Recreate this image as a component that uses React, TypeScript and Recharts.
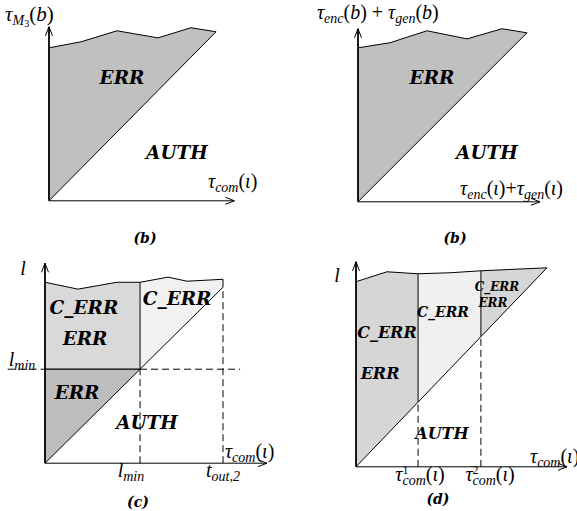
import React from "react";
import { ComposedChart, Area, XAxis, YAxis, ReferenceLine, ReferenceDot } from "recharts";

// every panel uses units where the diagonal runs from (0,0) to (10,10)
const A_TOP = [
  { x: 0, y: 9.05 },
  { x: 1.92, y: 9.41 },
  { x: 4.07, y: 10.06 },
  { x: 6.53, y: 9.64 },
  { x: 8.5, y: 10.24 },
  { x: 10, y: 10 },
];
const B_TOP = [
  { x: 0, y: 9.11 },
  { x: 1.89, y: 9.41 },
  { x: 4.08, y: 10.12 },
  { x: 6.45, y: 9.64 },
  { x: 8.52, y: 10.24 },
  { x: 10, y: 10 },
];
const C_TOP = [
  { x: 0, y: 10.28 },
  { x: 1.85, y: 9.89 },
  { x: 4.04, y: 10.28 },
  { x: 5.34, y: 10.28 },
  { x: 6.91, y: 10.57 },
  { x: 7.98, y: 10.34 },
  { x: 10, y: 10.45 },
];
const D_TOP = [
  { x: 0, y: 9.3 },
  { x: 1.62, y: 9.8 },
  { x: 3.25, y: 9.7 },
  { x: 4.92, y: 9.75 },
  { x: 6.54, y: 9.85 },
  { x: 10, y: 10 },
];
const C_LMIN = 5.34;
const C_TOUT = 10;
const D_SPLITS = [3.25, 6.54];
// axis arrow lengths [x, y]
const A_AXES = [11.1, 10.3];
const B_AXES = [10.77, 10.24];
const C_AXES = [12.47, 11.36];
const D_AXES = [11.05, 10.3];

const A_ERR = A_TOP.map((p) => ({ x: p.x, v: [p.x, p.y] }));
const B_ERR = B_TOP.map((p) => ({ x: p.x, v: [p.x, p.y] }));
const C_UPPER = C_TOP.filter((p) => p.x <= C_LMIN).map((p) => ({ x: p.x, v: [C_LMIN, p.y] }));
const C_LOWER = [
  { x: 0, v: [0, C_LMIN] },
  { x: C_LMIN, v: [C_LMIN, C_LMIN] },
];
const C_RIGHT = C_TOP.filter((p) => p.x >= C_LMIN).map((p) => ({ x: p.x, v: [p.x, p.y] }));
const D_EDGES = [0, ...D_SPLITS, 10];
const D_BANDS = D_EDGES.slice(0, -1).map((lo, i) =>
  D_TOP.filter((p) => p.x >= lo && p.x <= D_EDGES[i + 1]).map((p) => ({ x: p.x, v: [p.x, p.y] }))
);
const D_FILLS = ["#d6d6d6", "#f0f0f0", "#d6d6d6"];
const topAt = (top: { x: number; y: number }[], x: number) => top.find((p) => p.x === x)!.y;

const DOMAIN = 12;
const PAD = 70;
const MATH = "'Liberation Serif', serif";
const BOLD = "'DejaVu Serif', serif";
const SUB = 14;

function Panel({ ox, oy, sx, sy, children }: any) {
  const w = DOMAIN * sx;
  const h = DOMAIN * sy;
  return (
    <div style={{ position: "absolute", left: ox - PAD, top: oy - h - PAD }}>
      <ComposedChart
        width={w + 2 * PAD}
        height={h + 2 * PAD}
        margin={{ top: PAD, right: PAD, bottom: PAD, left: PAD }}
      >
        <XAxis type="number" dataKey="x" domain={[0, DOMAIN]} hide />
        <YAxis type="number" domain={[0, DOMAIN]} hide />
        {children}
      </ComposedChart>
    </div>
  );
}

const arrow = (width: number) => (p: any) => {
  const { x1, y1, x2, y2 } = p;
  const a = Math.atan2(y2 - y1, x2 - x1);
  const bx = x2 - 9 * Math.cos(a);
  const by = y2 - 9 * Math.sin(a);
  const nx = -Math.sin(a) * 3.5;
  const ny = Math.cos(a) * 3.5;
  return (
    <g>
      <line x1={x1} y1={y1} x2={x2} y2={y2} stroke="#000" strokeWidth={width} />
      <polyline
        points={`${bx + nx},${by + ny} ${x2},${y2} ${bx - nx},${by - ny}`}
        fill="none"
        stroke="#000"
        strokeWidth={1}
      />
    </g>
  );
};

const tag = (text: string, size: number) => (p: any) => (
  <text
    x={p.cx}
    y={p.cy}
    dy="0.36em"
    textAnchor="middle"
    fontFamily={BOLD}
    fontWeight="bold"
    fontStyle="italic"
    fontSize={size}
    fill="#000"
  >
    {text}
  </text>
);

const math = (body: React.ReactNode, anchor = "start", size = 20) => (p: any) => (
  <text x={p.cx} y={p.cy} textAnchor={anchor} fontFamily={MATH} fontSize={size} fill="#000">
    {body}
  </text>
);

// tau with a subscript and an argument, e.g. tau_com(iota)
function tau(sub: string, arg: string, sup?: string) {
  return (
    <>
      <tspan fontStyle="italic">τ</tspan>
      {sup ? (
        <>
          <tspan fontSize={12} dy={-7}>{sup}</tspan>
          <tspan fontStyle="italic" fontSize={SUB} dx={-6} dy={11}>{sub}</tspan>
          <tspan dy={-4}>(</tspan>
        </>
      ) : (
        <>
          <tspan fontStyle="italic" fontSize={SUB} dy={4}>{sub}</tspan>
          <tspan dy={-4}>(</tspan>
        </>
      )}
      <tspan fontStyle="italic">{arg}</tspan>
      <tspan>)</tspan>
    </>
  );
}

const lmin = (
  <>
    <tspan fontStyle="italic">l</tspan>
    <tspan fontStyle="italic" fontSize={SUB} dy={4}>min</tspan>
  </>
);

const dash = { stroke: "#000", strokeWidth: 1, strokeDasharray: "7 4", ifOverflow: "visible" as const };
const solid = { stroke: "#000", strokeWidth: 1, ifOverflow: "visible" as const };
const dot = { ifOverflow: "visible" as const };

export default function App() {
  return (
    <div style={{ position: "absolute", left: 0, top: 0, width: 577, height: 511, background: "#fff", overflow: "hidden" }}>
      {/* panel a */}
      <Panel ox={49} oy={201} sx={16.7} sy={16.9}>
        <Area data={A_ERR} dataKey="v" type="linear" fill="#c0c0c0" fillOpacity={1} stroke="#000" strokeWidth={1} isAnimationActive={false} />
        <ReferenceLine segment={[{ x: 0, y: 0 }, { x: A_AXES[0], y: 0 }]} ifOverflow="visible" shape={arrow(1)} />
        <ReferenceLine segment={[{ x: 0, y: 0 }, { x: 0, y: A_AXES[1] }]} ifOverflow="visible" shape={arrow(1.8)} />
        <ReferenceDot x={-2.63} y={10.65} {...dot} shape={math(
          <>
            <tspan fontStyle="italic">τ</tspan>
            <tspan fontStyle="italic" fontSize={SUB} dy={4}>M</tspan>
            <tspan fontSize={10} dy={2}>3</tspan>
            <tspan dy={-6}>(</tspan>
            <tspan fontStyle="italic">b</tspan>
            <tspan>)</tspan>
          </>,
          "start",
          21
        )} />
        <ReferenceDot x={4.37} y={7.28} {...dot} shape={tag("ERR", 18.5)} />
        <ReferenceDot x={7.66} y={2.84} {...dot} shape={tag("AUTH", 18.5)} />
        <ReferenceDot x={9.52} y={0.77} {...dot} shape={math(tau("com", "ι"))} />
        <ReferenceDot x={5.75} y={-2.2} {...dot} shape={tag("(b)", 14)} />
      </Panel>

      {/* panel b */}
      <Panel ox={358} oy={202} sx={16.9} sy={16.9}>
        <Area data={B_ERR} dataKey="v" type="linear" fill="#c0c0c0" fillOpacity={1} stroke="#000" strokeWidth={1} isAnimationActive={false} />
        <ReferenceLine segment={[{ x: 0, y: 0 }, { x: B_AXES[0], y: 0 }]} ifOverflow="visible" shape={arrow(1)} />
        <ReferenceLine segment={[{ x: 0, y: 0 }, { x: 0, y: B_AXES[1] }]} ifOverflow="visible" shape={arrow(1.8)} />
        <ReferenceDot x={-2.43} y={10.8} {...dot} shape={math(
          <>
            {tau("enc", "b")}
            <tspan> + </tspan>
            {tau("gen", "b")}
          </>
        )} />
        <ReferenceDot x={4.38} y={7.34} {...dot} shape={tag("ERR", 18.5)} />
        <ReferenceDot x={7.63} y={2.9} {...dot} shape={tag("AUTH", 18.5)} />
        <ReferenceDot x={6.04} y={0.41} {...dot} shape={math(
          <>
            {tau("enc", "ι")}
            <tspan>+</tspan>
            {tau("gen", "ι")}
          </>
        )} />
        <ReferenceDot x={5.74} y={-2.14} {...dot} shape={tag("(b)", 14)} />
      </Panel>

      {/* panel c */}
      <Panel ox={45} oy={463} sx={17.8} sy={17.6}>
        <Area data={C_UPPER} dataKey="v" type="linear" fill="#d9d9d9" fillOpacity={1} stroke="#000" strokeWidth={1} isAnimationActive={false} />
        <Area data={C_LOWER} dataKey="v" type="linear" fill="#bdbdbd" fillOpacity={1} stroke="#000" strokeWidth={1} isAnimationActive={false} />
        <Area data={C_RIGHT} dataKey="v" type="linear" fill="#f1f1f1" fillOpacity={1} stroke="#000" strokeWidth={1} isAnimationActive={false} />
        <ReferenceLine segment={[{ x: C_LMIN, y: C_LMIN }, { x: C_LMIN, y: topAt(C_TOP, C_LMIN) }]} {...solid} />
        <ReferenceLine segment={[{ x: C_TOUT, y: C_TOUT }, { x: C_TOUT, y: topAt(C_TOP, C_TOUT) }]} {...solid} />
        <ReferenceLine segment={[{ x: C_LMIN, y: 0 }, { x: C_LMIN, y: C_LMIN }]} {...dash} />
        <ReferenceLine segment={[{ x: C_TOUT, y: 0 }, { x: C_TOUT, y: C_TOUT }]} {...dash} />
        <ReferenceLine segment={[{ x: C_LMIN, y: C_LMIN }, { x: 10.96, y: C_LMIN }]} {...dash} />
        <ReferenceLine segment={[{ x: -2.1, y: C_LMIN }, { x: 0, y: C_LMIN }]} {...dash} />
        <ReferenceLine segment={[{ x: 0, y: 0 }, { x: C_AXES[0], y: 0 }]} ifOverflow="visible" shape={arrow(1)} />
        <ReferenceLine segment={[{ x: 0, y: 0 }, { x: 0, y: C_AXES[1] }]} ifOverflow="visible" shape={arrow(1.8)} />
        <ReferenceDot x={-1.24} y={10.68} {...dot} shape={math(<tspan fontStyle="italic">l</tspan>, "middle")} />
        <ReferenceDot x={-1.29} y={5.55} {...dot} shape={math(lmin, "middle")} />
        <ReferenceDot x={2.19} y={8.86} {...dot} shape={tag("C_ERR", 18.5)} />
        <ReferenceDot x={2.25} y={7.1} {...dot} shape={tag("ERR", 18.5)} />
        <ReferenceDot x={7.42} y={9.38} {...dot} shape={tag("C_ERR", 18.5)} />
        <ReferenceDot x={1.8} y={4.03} {...dot} shape={tag("ERR", 18.5)} />
        <ReferenceDot x={5.73} y={2.33} {...dot} shape={tag("AUTH", 18.5)} />
        <ReferenceDot x={10.11} y={0.28} {...dot} shape={math(tau("com", "ι"))} />
        <ReferenceDot x={4.83} y={-0.8} {...dot} shape={math(lmin, "middle")} />
        <ReferenceDot x={10} y={-0.8} {...dot} shape={math(
          <>
            <tspan fontStyle="italic">t</tspan>
            <tspan fontStyle="italic" fontSize={SUB} dy={4}>out,2</tspan>
          </>,
          "middle"
        )} />
        <ReferenceDot x={5.22} y={-2.22} {...dot} shape={tag("(c)", 14)} />
      </Panel>

      {/* panel d */}
      <Panel ox={356} oy={467} sx={19.1} sy={19.9}>
        {D_BANDS.map((band, i) => (
          <Area key={i} data={band} dataKey="v" type="linear" fill={D_FILLS[i]} fillOpacity={1} stroke="#000" strokeWidth={1} isAnimationActive={false} />
        ))}
        {D_SPLITS.map((s) => (
          <ReferenceLine key={`s${s}`} segment={[{ x: s, y: s }, { x: s, y: topAt(D_TOP, s) }]} {...solid} />
        ))}
        {D_SPLITS.map((s) => (
          <ReferenceLine key={`d${s}`} segment={[{ x: s, y: 0 }, { x: s, y: s }]} {...dash} />
        ))}
        <ReferenceLine segment={[{ x: 0, y: 0 }, { x: D_AXES[0], y: 0 }]} ifOverflow="visible" shape={arrow(1)} />
        <ReferenceLine segment={[{ x: 0, y: 0 }, { x: 0, y: D_AXES[1] }]} ifOverflow="visible" shape={arrow(1.8)} />
        <ReferenceDot x={-0.99} y={9.3} {...dot} shape={math(<tspan fontStyle="italic">l</tspan>, "middle")} />
        <ReferenceDot x={1.62} y={6.78} {...dot} shape={tag("C_ERR", 16)} />
        <ReferenceDot x={1.26} y={4.72} {...dot} shape={tag("ERR", 16)} />
        <ReferenceDot x={4.55} y={7.79} {...dot} shape={tag("C_ERR", 14)} />
        <ReferenceDot x={7.38} y={9.05} {...dot} shape={tag("C_ERR", 12)} />
        <ReferenceDot x={7.17} y={8.24} {...dot} shape={tag("ERR", 12)} />
        <ReferenceDot x={4.5} y={1.71} {...dot} shape={tag("AUTH", 16)} />
        <ReferenceDot x={9.11} y={0.2} {...dot} shape={math(tau("com", "ι"))} />
        <ReferenceDot x={3.35} y={-0.7} {...dot} shape={math(tau("com", "ι", "1"), "middle")} />
        <ReferenceDot x={7.02} y={-0.7} {...dot} shape={math(tau("com", "ι", "2"), "middle")} />
        <ReferenceDot x={4.29} y={-1.6} {...dot} shape={tag("(d)", 14)} />
      </Panel>
    </div>
  );
}
